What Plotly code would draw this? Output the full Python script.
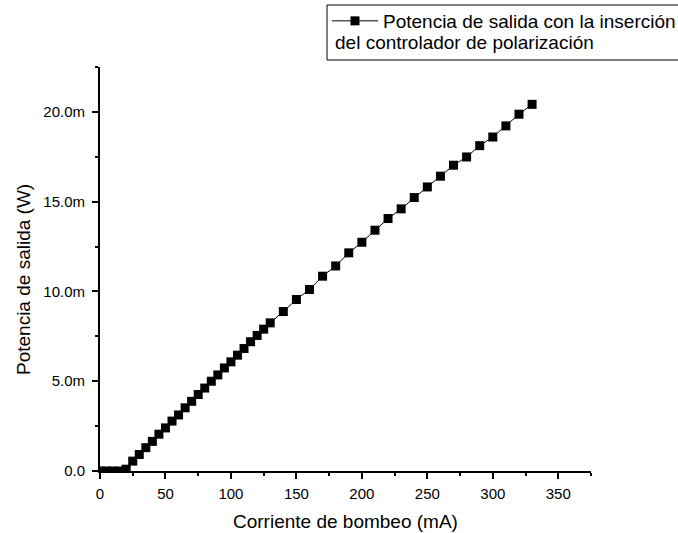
import numpy as np
import plotly.graph_objects as go

# Pump current (mA) and measured output power (mW)
current_ma = [0, 5, 10, 15, 20, 25, 30, 35, 40, 45, 50, 55, 60, 65, 70, 75,
              80, 85, 90, 95, 100, 105, 110, 115, 120, 125, 130, 140, 150,
              160, 170, 180, 190, 200, 210, 220, 230, 240, 250, 260, 270,
              280, 290, 300, 310, 320, 330]
power_mw = [0.0, 0.0, 0.0, 0.0, 0.10, 0.55, 0.92, 1.30, 1.65, 2.05, 2.40,
            2.78, 3.12, 3.52, 3.88, 4.26, 4.62, 5.00, 5.35, 5.74, 6.08,
            6.45, 6.82, 7.20, 7.55, 7.90, 8.25, 8.88, 9.55, 10.11, 10.85,
            11.42, 12.15, 12.74, 13.41, 14.06, 14.60, 15.23, 15.82, 16.42,
            17.03, 17.49, 18.12, 18.60, 19.22, 19.87, 20.42]

y_tick_vals = [0.0, 0.005, 0.010, 0.015, 0.020]
y_tick_labels = ["0.0", "5.0m", "10.0m", "15.0m", "20.0m"]

series_name = "Potencia de salida con la inserción"
series_name_cont = "del controlador de polarización"
x_title = "Corriente de bombeo (mA)"
y_title = "Potencia de salida (W)"

FONT = "Liberation Sans, Arial, sans-serif"

# Plot-area geometry in pixels, used to place the legend box in paper units
W, H = 678, 533
ML, MR, MT, MB = 100, 87, 67, 62
PW, PH = W - ML - MR, H - MT - MB


def px_x(px):
    return (px - ML) / PW


def px_y(py):
    return (H - MB - py) / PH


power_w = np.array(power_mw) * 1e-3

fig = go.Figure()
fig.add_trace(go.Scatter(
    x=current_ma, y=power_w, mode="lines+markers", name=series_name,
    line=dict(color="black", width=1),
    marker=dict(symbol="square", size=9, color="black"),
))

axis_common = dict(
    showline=True, linecolor="black", linewidth=2, mirror=False,
    ticks="outside", ticklen=6, tickwidth=1.5, tickcolor="black",
    showgrid=False, zeroline=False,
    tickfont=dict(family=FONT, size=15, color="black"),
)

fig.update_xaxes(
    range=[0, 375], tickmode="linear", tick0=0, dtick=50,
    ticklabelstandoff=2,
    minor=dict(dtick=25, ticks="outside", ticklen=3, tickwidth=1.5,
               tickcolor="black"),
    **axis_common,
)
fig.update_yaxes(
    range=[0, 0.0225], tickmode="array", tickvals=y_tick_vals,
    ticktext=y_tick_labels, ticklabelstandoff=4,
    minor=dict(dtick=0.0025, ticks="outside", ticklen=3, tickwidth=1.5,
               tickcolor="black"),
    **axis_common,
)

title_font = dict(family=FONT, size=19, color="black")

fig.update_layout(
    width=W, height=H,
    margin=dict(l=ML, r=MR, t=MT, b=MB, pad=0, autoexpand=False),
    paper_bgcolor="white", plot_bgcolor="white",
    showlegend=True,
    legend=dict(
        x=px_x(327), y=px_y(2), xanchor="left", yanchor="top",
        bgcolor="rgba(0,0,0,0)", borderwidth=0, itemwidth=46,
        font=title_font,
    ),
    annotations=[
        dict(text=x_title, xref="paper", yref="paper", x=0.5, y=px_y(521),
             xanchor="center", yanchor="middle", showarrow=False,
             font=title_font),
        dict(text=y_title, xref="paper", yref="paper", x=px_x(23),
             y=px_y(280), xanchor="center", yanchor="middle",
             showarrow=False, textangle=-90, font=title_font),
        dict(text=series_name_cont, xref="paper", yref="paper",
             x=px_x(333), y=px_y(43), xanchor="left", yanchor="middle",
             showarrow=False, font=title_font),
    ],
    shapes=[
        dict(type="rect", xref="paper", yref="paper",
             x0=px_x(327), x1=px_x(700), y0=px_y(60), y1=px_y(5),
             line=dict(color="black", width=1), fillcolor="rgba(0,0,0,0)",
             layer="above"),
    ],
)

fig.write_html("out.html")
